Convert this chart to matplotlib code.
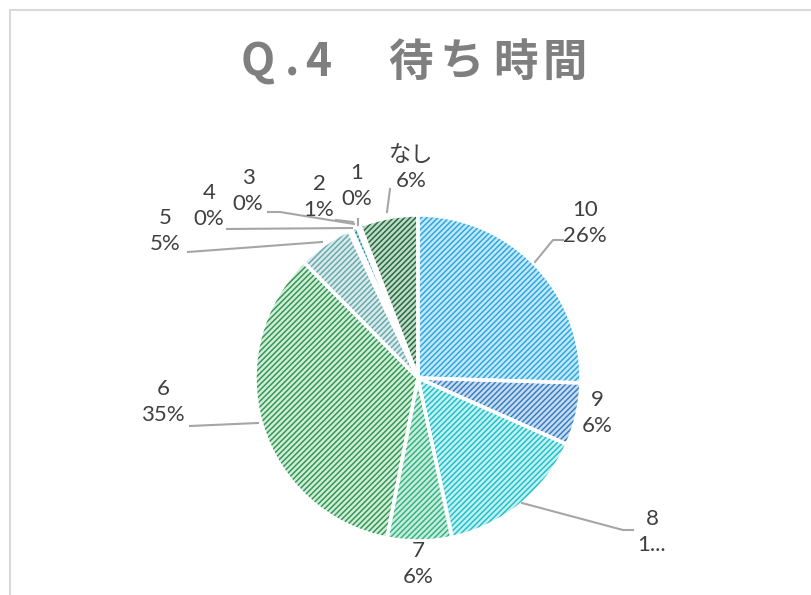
import numpy as np
import matplotlib
matplotlib.use('Agg')
from matplotlib import pyplot as plt
from matplotlib.patches import Rectangle

# データ (時計回り、真上から)
labels = ['10', '9', '8', '7', '6', '5', '4', '3', '2', '1', 'なし']
values = [25.5, 6.2, 15.0, 6.4, 34.6, 5.4, 0.15, 0.15, 0.6, 0.3, 5.8]
pct_text = ['26%', '6%', '1...', '6%', '35%', '5%', '0%', '0%', '1%', '0%', '6%']

face_colors = ['#c4e8f8', '#c8dcf0', '#c2f1f2', '#c9eddd', '#cfeed8', '#d8eaea',
               '#2c7f9c', '#2a87a0', '#9fd3de', '#1f7b98', '#bddcc6']
hatch_colors = ['#2fa8e0', '#3a80c4', '#25c0c8', '#36b487', '#379658', '#6aa9ae',
                '#1f6f8b', '#1f6f8b', '#17869c', '#16708c', '#2b6845']

W, H = 811, 595
cx, cy, R = 418, 378, 163

def px(x, y):
    # ピクセル -> データ座標
    return ((x - cx) / R, (cy - y) / R)

# ラベル位置とリーダー線 (ピクセル)
label_pos = [(585, 223), (597, 413), (652, 532), (418, 564), (163, 402),
             (165, 231), (209, 206), (248, 191), (319, 197), (357, 186), (411, 168)]
leaders = {
    0: [(535, 262), (553, 240), (563, 240)],
    2: [(522, 503), (623, 530), (633, 530)],
    4: [(258, 423), (190, 426)],
    5: [(322, 242), (188, 252)],
    6: [(352, 228), (227, 229)],
    7: [(354, 224), (280, 212), (268, 212)],
    8: [(353, 222), (336, 220)],
    9: [(358, 225), (358, 219)],
    10: [(387, 212), (390, 189)],
}

plt.rcParams['hatch.linewidth'] = 1.1
fig = plt.figure(figsize=(W / 100, H / 100), dpi=100)
fig.add_artist(Rectangle((10 / W, -0.1), 1.2, 1 - 10 / H + 0.1, transform=fig.transFigure,
                         fill=False, edgecolor='#d9d9d9', linewidth=1.5))

ax = fig.add_axes([(cx - R) / W, (H - cy - R) / H, 2 * R / W, 2 * R / H])
wedges, _ = ax.pie(values, startangle=90, counterclock=False, radius=1,
                   wedgeprops=dict(linewidth=0))
for w, fc, hc in zip(wedges, face_colors, hatch_colors):
    w.set_facecolor(fc)
    w.set_edgecolor(hc)
    w.set_hatch('//////')
    w.set_linewidth(0)
ax.pie(values, startangle=90, counterclock=False, radius=1,
       wedgeprops=dict(fill=False, edgecolor='white', linewidth=2.5))
ax.set_xlim(-1, 1)
ax.set_ylim(-1, 1)
ax.set_aspect('equal')
ax.axis('off')

for i, (lab, p) in enumerate(zip(labels, pct_text)):
    x, y = px(*label_pos[i])
    ax.text(x, y, lab + '\n' + p, ha='center', va='center', fontsize=16,
            color='#404040', linespacing=1.35, clip_on=False,
            family=['Lato', 'Noto Sans CJK JP'])
for i, pts in leaders.items():
    xs, ys = zip(*[px(a, b) for a, b in pts])
    ax.plot(xs, ys, color='#a6a6a6', linewidth=1.5, clip_on=False)

# タイトル (字間を広げる)
title_chars = ['Q', '.', '4', '待', 'ち', '時', '間']
title_x = [258, 292, 318, 410, 462, 515, 565]
for ch, x in zip(title_chars, title_x):
    fig.text(x / W, 1 - 63 / H, ch, ha='center', va='center',
             fontsize=32, fontweight='bold', color='#7f7f7f',
             family=['Noto Sans CJK JP', 'DejaVu Sans'])

plt.savefig('out.png', dpi=100)
